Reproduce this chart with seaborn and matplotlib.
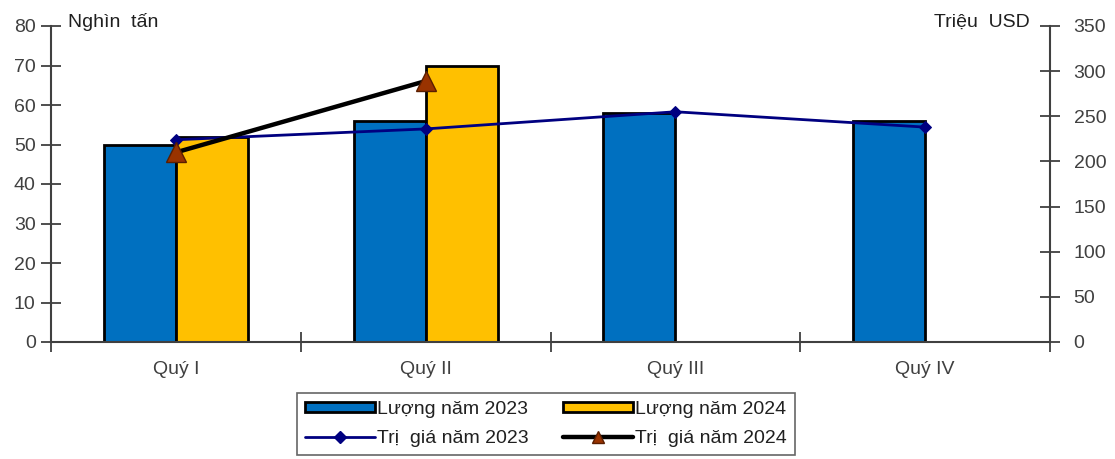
import numpy as np
import pandas as pd
import matplotlib
matplotlib.use("Agg")
import matplotlib.pyplot as plt
import seaborn as sns
from matplotlib.patches import Patch
from matplotlib.lines import Line2D
from matplotlib.ticker import FixedLocator

categories = ["Quý I", "Quý II", "Quý III", "Quý IV"]
luong_2023 = [50, 56, 58, 56]
luong_2024 = [52, 70, np.nan, np.nan]
trigia_2023 = [224, 236, 255, 238]
trigia_2024 = [210, 289]

sns.set_theme(style="white")
plt.rcParams["font.family"] = ["Liberation Sans", "DejaVu Sans"]
FS = 14

fig = plt.figure(figsize=(11.15, 4.59), dpi=100)
ax = fig.add_axes([51/1115, 1-342/459, (1050-51)/1115, (342-26)/459])

df = pd.DataFrame({
    "cat": categories * 2,
    "val": luong_2023 + luong_2024,
    "series": ["Lượng năm 2023"] * 4 + ["Lượng năm 2024"] * 4,
})
c_blue = "#0070C0"
c_yel = "#FFC000"
sns.barplot(data=df, x="cat", y="val", hue="series", order=categories,
            hue_order=["Lượng năm 2023", "Lượng năm 2024"],
            palette=[c_blue, c_yel], width=0.576, dodge=True, gap=0,
            edgecolor="black", linewidth=2, saturation=1, legend=False, ax=ax)
ax.set_xlim(-0.5, 3.5)
ax.set_ylim(0, 80)
ax.set_yticks(range(0, 81, 10))
ax.set_xlabel("")
ax.set_ylabel("")

ax2 = ax.twinx()
x23 = np.arange(len(trigia_2023))
x24 = np.arange(len(trigia_2024))
sns.lineplot(x=x23, y=trigia_2023, ax=ax2, color="#000080", lw=2,
             marker="D", markersize=6, markeredgecolor="#000080", legend=False)
sns.lineplot(x=x24, y=trigia_2024, ax=ax2, color="black", lw=3.2,
             marker="^", markersize=15, markerfacecolor="#993300",
             markeredgecolor="#5a1e00", markeredgewidth=1, legend=False)
ax2.set_ylim(0, 350)
ax2.set_yticks(range(0, 351, 50))
ax2.set_xlim(-0.5, 3.5)

for a in (ax, ax2):
    a.set_facecolor("none")
    a.grid(False)
    for s in a.spines.values():
        s.set_visible(False)
ax.spines["left"].set_visible(True)
ax.spines["bottom"].set_visible(True)
ax2.spines["right"].set_visible(True)
for s in [ax.spines["left"], ax.spines["bottom"], ax2.spines["right"]]:
    s.set_color("#404040")
    s.set_linewidth(1.5)

ax.tick_params(axis="y", direction="inout", length=14, width=1.3, color="#404040",
               labelsize=FS, labelcolor="#404040", left=True, pad=4)
ax2.tick_params(axis="y", direction="inout", length=14, width=1.3, color="#404040",
                labelsize=FS, labelcolor="#404040", right=True, pad=10)
ax.xaxis.set_minor_locator(FixedLocator([-0.5, 0.5, 1.5, 2.5, 3.5]))
ax.tick_params(axis="x", which="major", length=0, labelsize=FS, labelcolor="#404040", pad=14)
ax.tick_params(axis="x", which="minor", direction="inout", length=14, width=1.3,
               color="#404040", bottom=True)
ax2.set_ylabel("")

fig.text(68/1115, 1-22/459, "Nghìn  tấn", fontsize=FS, color="#202020", va="center", ha="left")
fig.text(1030/1115, 1-22/459, "Triệu  USD", fontsize=FS, color="#202020", va="center", ha="right")

h_l23 = Patch(facecolor=c_blue, edgecolor="black", linewidth=2)
h_l24 = Patch(facecolor=c_yel, edgecolor="black", linewidth=2)
h_t23 = Line2D([], [], color="#000080", lw=2, marker="D", markersize=6)
h_t24 = Line2D([], [], color="black", lw=3.2, marker="^", markersize=8,
               markerfacecolor="#993300", markeredgecolor="#5a1e00")
handles = [h_l23, h_t23, h_l24, h_t24]
labels = ["Lượng năm 2023", "Trị  giá năm 2023", "Lượng năm 2024", "Trị  giá năm 2024"]
leg = fig.legend(handles, labels, ncol=2, loc="center",
                 bbox_to_anchor=(546/1115, 1-424/459), fontsize=FS,
                 frameon=True, fancybox=False, edgecolor="#404040",
                 handlelength=3.6, handleheight=0.45, handletextpad=0.1,
                 columnspacing=1.8, labelspacing=0.6, borderpad=0.4)
leg.get_frame().set_linewidth(1.2)
for t in leg.get_texts():
    t.set_color("#202020")

fig.savefig("out.png", dpi=100)
